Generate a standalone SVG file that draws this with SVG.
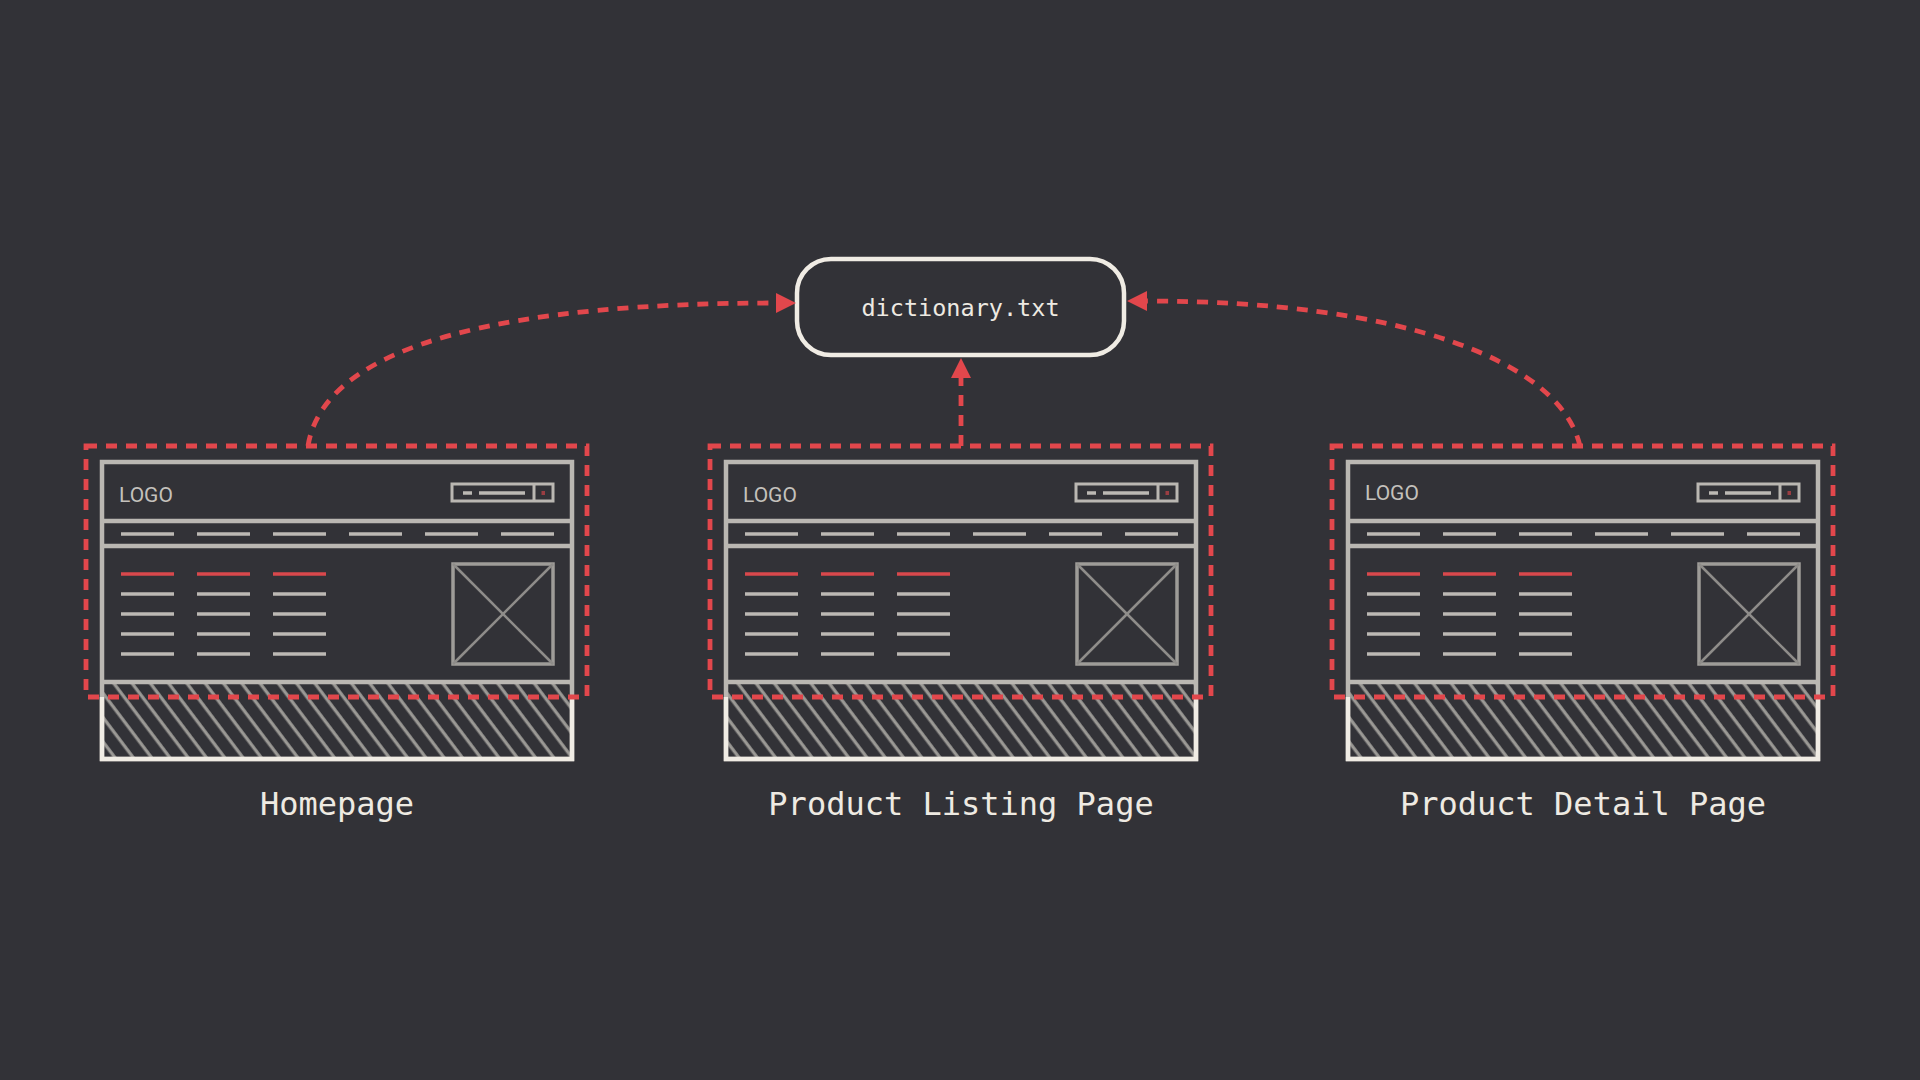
<svg xmlns="http://www.w3.org/2000/svg" width="1920" height="1080" viewBox="0 0 1920 1080">
  <style>
    .wf { fill: none; stroke: #bab7b2; stroke-width: 4.5; }
    .cream { fill: none; stroke: #f0ece4; stroke-width: 4.5; }
    .ln { stroke: #bcb9b4; stroke-width: 3.5; }
    .rl { stroke: #d9484c; stroke-width: 3.5; }
    .img { fill: none; stroke: #9e9c98; stroke-width: 3.5; }
    .x { stroke: #8f8d8a; stroke-width: 2.5; }
    .sb { fill: none; stroke: #bab7b2; stroke-width: 3; }
    .logo { font-family: Roboto, "Liberation Sans", sans-serif; font-size: 21px; fill: #c4c1bc; }
    .label { font-family: "DejaVu Sans Mono", "Liberation Mono", monospace; font-size: 32px; fill: #eeeae2; text-anchor: middle; }
    .hl { fill: none; stroke: #e2474c; stroke-width: 4.8; stroke-dasharray: 11 9; }
    .conn { fill: none; stroke: #e2474c; stroke-width: 4.8; stroke-dasharray: 11 9; }
  </style>
  <defs>
    <pattern id="hatch" patternUnits="userSpaceOnUse" width="14.6" height="40" patternTransform="rotate(-37)">
      <line x1="7" y1="-5" x2="7" y2="45" stroke="#9c9a96" stroke-width="3.2"/>
    </pattern>
    <marker id="arr" markerUnits="userSpaceOnUse" markerWidth="22" markerHeight="22" refX="0" refY="10" orient="auto" viewBox="0 0 22 22">
      <path d="M0,0 L20,10 L0,20 z" fill="#e2474c"/>
    </marker>
    <g id="wire">
      <rect x="0" y="682" width="470" height="77" fill="url(#hatch)"/>
      <rect class="wf" x="0" y="462" width="470" height="297"/>
      <path class="cream" d="M0,697 V759 H470 V697"/>
      <line class="wf" x1="0" y1="521" x2="470" y2="521"/>
      <line class="wf" x1="0" y1="546" x2="470" y2="546"/>
      <line class="wf" x1="0" y1="682" x2="470" y2="682"/>
      <!-- search box -->
      <rect class="sb" x="350" y="484" width="101" height="17"/>
      <line class="sb" x1="432" y1="484" x2="432" y2="501"/>
      <line class="ln" x1="361" y1="493" x2="370" y2="493"/>
      <line class="ln" x1="377" y1="493" x2="423" y2="493"/>
      <rect x="439.5" y="491" width="3.5" height="4" fill="#9a3d42"/>
      <!-- nav -->
      <line class="ln" x1="19" y1="534" x2="72" y2="534"/>
      <line class="ln" x1="95" y1="534" x2="148" y2="534"/>
      <line class="ln" x1="171" y1="534" x2="224" y2="534"/>
      <line class="ln" x1="247" y1="534" x2="300" y2="534"/>
      <line class="ln" x1="323" y1="534" x2="376" y2="534"/>
      <line class="ln" x1="399" y1="534" x2="452" y2="534"/>
      <!-- content -->
      <line class="rl" x1="19" y1="574" x2="72" y2="574"/>
      <line class="rl" x1="95" y1="574" x2="148" y2="574"/>
      <line class="rl" x1="171" y1="574" x2="224" y2="574"/>
      <line class="ln" x1="19" y1="594" x2="72" y2="594"/>
      <line class="ln" x1="95" y1="594" x2="148" y2="594"/>
      <line class="ln" x1="171" y1="594" x2="224" y2="594"/>
      <line class="ln" x1="19" y1="614" x2="72" y2="614"/>
      <line class="ln" x1="95" y1="614" x2="148" y2="614"/>
      <line class="ln" x1="171" y1="614" x2="224" y2="614"/>
      <line class="ln" x1="19" y1="634" x2="72" y2="634"/>
      <line class="ln" x1="95" y1="634" x2="148" y2="634"/>
      <line class="ln" x1="171" y1="634" x2="224" y2="634"/>
      <line class="ln" x1="19" y1="654" x2="72" y2="654"/>
      <line class="ln" x1="95" y1="654" x2="148" y2="654"/>
      <line class="ln" x1="171" y1="654" x2="224" y2="654"/>
      <!-- image placeholder -->
      <rect class="img" x="351" y="564" width="100" height="100"/>
      <line class="x" x1="351" y1="564" x2="451" y2="664"/>
      <line class="x" x1="451" y1="564" x2="351" y2="664"/>
    </g>
  </defs>
  <rect width="1920" height="1080" fill="#323237"/>

  <g id="dictionary">
    <rect x="797" y="259" width="327" height="96" rx="34" fill="#323237" stroke="#f0ece4" stroke-width="4.5"/>
    <text x="960.5" y="316" text-anchor="middle" font-family="'DejaVu Sans Mono', 'Liberation Mono', monospace" font-size="23.5" fill="#eeeae2">dictionary.txt</text>
  </g>

  <g id="homepage">
    <use href="#wire" transform="translate(102,0)"/>
    <text class="logo" x="119" y="502">LOGO</text>
    <rect class="hl" x="86" y="446" width="501" height="251"/>
    <text class="label" x="337" y="815">Homepage</text>
  </g>

  <g id="product-listing">
    <use href="#wire" transform="translate(726,0)"/>
    <text class="logo" x="743" y="502">LOGO</text>
    <rect class="hl" x="710" y="446" width="501" height="251"/>
    <text class="label" x="961" y="815">Product Listing Page</text>
  </g>

  <g id="product-detail">
    <use href="#wire" transform="translate(1348,0)"/>
    <text class="logo" x="1365" y="500">LOGO</text>
    <rect class="hl" x="1332" y="446" width="501" height="251"/>
    <text class="label" x="1583" y="815">Product Detail Page</text>
  </g>

  <g id="connectors">
    <path class="conn" d="M308,446 C325,340 520,303 776,303" marker-end="url(#arr)"/>
    <path class="conn" d="M961,446 V378" marker-end="url(#arr)"/>
    <path class="conn" d="M1580,446 C1560,360 1400,301 1147,301" marker-end="url(#arr)"/>
  </g>
</svg>
